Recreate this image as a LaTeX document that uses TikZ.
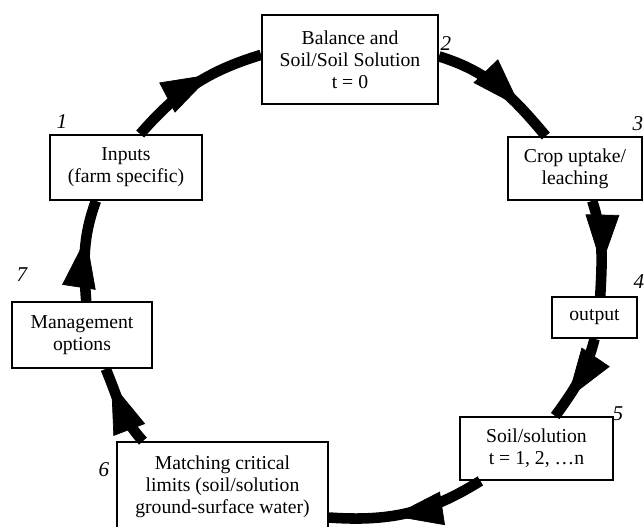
\documentclass[tikz,border=0pt]{standalone}
\usepackage{fontspec}
\setmainfont{Liberation Serif}
\usetikzlibrary{arrows.meta,decorations.markings}

\begin{document}
\begin{tikzpicture}[x=0.025cm, y=0.025cm,
    box/.style={draw, line width=1.3pt, fill=white, align=center, inner sep=0pt,
      font=\fontsize{14}{15.8}\selectfont},
    num/.style={font=\fontsize{15}{18}\selectfont\itshape},
    flow/.style={line width=7.5pt, postaction={decorate},
      decoration={markings, mark=at position #1 with
        {\arrow{Triangle[length=36pt,width=24pt,line width=0.5pt]}}}}]
  \useasboundingbox (0,0) rectangle (644,526);
  % boxes round the cycle
  \node[box, minimum width=4.4cm, minimum height=2.225cm] (bal) at (350,466.5)
    {Balance and\\Soil/Soil Solution\\t = 0};
  \node[box, minimum width=3.35cm, minimum height=1.575cm] (crop) at (575,357.5)
    {Crop uptake/\\leaching};
  \node[box, minimum width=2.125cm, minimum height=1.025cm] (output) at (594.5,208.5)
    {output};
  \node[box, minimum width=3.825cm, minimum height=1.575cm] (soil) at (536.5,77.5)
    {Soil/solution\\t = 1, 2, \dots n};
  \node[box, minimum width=5.275cm, minimum height=2.25cm] (match) at (222.5,39)
    {Matching critical\\limits (soil/solution\\ground-surface water)};
  \node[box, minimum width=3.5cm, minimum height=1.65cm] (mgmt) at (82,191)
    {Management\\options};
  \node[box, minimum width=3.8cm, minimum height=1.625cm] (inp) at (126,358.5)
    {Inputs\\(farm specific)};
  % step numbers
  \node[num] (n1) at (62,404) {1};
  \node[num] (n2) at (446,482) {2};
  \node[num] (n3) at (638,402) {3};
  \node[num] (n4) at (639,244) {4};
  \node[num] (n5) at (618,112) {5};
  \node[num] (n6) at (104,56) {6};
  \node[num] (n7) at (22,251) {7};
  % the cycle
  \draw[flow=0.64] (inp.67) to[out=49, in=197] (bal.177);
  \draw[flow=0.72] (bal.2) to[out=-17, in=130] (crop.132);
  \draw[flow=0.68] (crop.-62) to[out=-72, in=87] (output.75);
  \draw[flow=0.76] (output.south) to[out=-104, in=54] (soil.60);
  \draw[flow=0.60] (soil.210) to[out=-148, in=-4] (match.-16);
  \draw[flow=0.82] (match.150) to[out=133, in=-67] (mgmt.-55);
  \draw[flow=0.63] (mgmt.83) to[out=94, in=-110] (inp.228);
\end{tikzpicture}
\end{document}
